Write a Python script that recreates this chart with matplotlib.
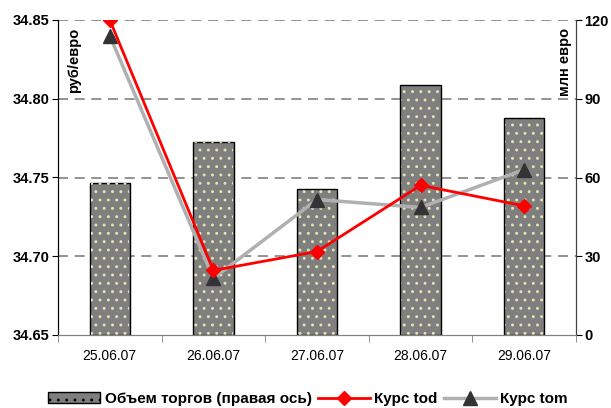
import numpy as np
import matplotlib.pyplot as plt

# Данные
dates = ['25.06.07', '26.06.07', '27.06.07', '28.06.07', '29.06.07']
volume = [58, 73.5, 55.6, 95.2, 82.7]
kurs_tod = [34.850, 34.691, 34.703, 34.745, 34.732]
kurs_tom = [34.840, 34.686, 34.736, 34.731, 34.755]

plt.rcParams['font.family'] = ['Liberation Sans', 'DejaVu Sans']
plt.rcParams['hatch.linewidth'] = 0.9

fig = plt.figure(figsize=(6.11, 4.08), dpi=100)
ax1 = fig.add_axes([58 / 611, 73 / 408, 518 / 611, 315 / 408])
ax2 = ax1.twinx()

x = np.arange(len(dates))

# Объем торгов - столбцы на правой оси
ax2.bar(x, volume, width=0.39, color='#7f7f7f', edgecolor='black', linewidth=1.0, zorder=2)
ax2.bar(x, volume, width=0.37, color='none', edgecolor='#e6e6b0', linewidth=0, hatch='..', zorder=3)
ax2.set_ylim(0, 120)
ax2.set_yticks([0, 30, 60, 90, 120])
ax2.yaxis.grid(True, color='#808080', linestyle=(0, (6, 4)), linewidth=1.2, zorder=0)
ax2.yaxis.get_gridlines()[0].set_visible(False)
ax2.set_axisbelow(True)

# Курсы - линии на левой оси
ax1.set_zorder(ax2.get_zorder() + 1)
ax1.patch.set_visible(False)
ax1.plot(x, kurs_tom, color='#b0b0b0', linewidth=2.5, marker='^', markersize=10,
         markerfacecolor='#333333', markeredgecolor='#333333', label='Курс tom', zorder=3)
ax1.plot(x, kurs_tod, color='#ff0000', linewidth=2, marker='D', markersize=7,
         markerfacecolor='#ff0000', markeredgecolor='#ff0000', label='Курс tod', zorder=4)
ax1.set_ylim(34.65, 34.85)
ax1.set_yticks([34.65, 34.70, 34.75, 34.80, 34.85])
ax1.set_yticklabels(['34.65', '34.70', '34.75', '34.80', '34.85'])
ax1.set_xlim(-0.5, len(dates) - 0.5)
ax1.set_xticks(x)
ax1.set_xticklabels(dates)
ax1.set_xticks(np.arange(-0.5, len(dates)), minor=True)
ax1.tick_params(axis='x', which='major', length=0, pad=10, labelsize=10)
ax1.tick_params(axis='x', which='minor', length=5, color='#808080')

for lbl in ax1.get_yticklabels():
    lbl.set_fontweight('bold')
for lbl in ax2.get_yticklabels():
    lbl.set_fontweight('bold')
ax1.tick_params(axis='y', labelsize=10.5, length=4, pad=2)
ax2.tick_params(axis='y', labelsize=10.5, length=4, pad=2)

for ax in (ax1, ax2):
    ax.spines['top'].set_visible(False)
    ax.spines['bottom'].set_color('#808080')
    ax.spines['left'].set_color('black')
    ax.spines['right'].set_color('#404040')

ax1.text(0.018, 0.975, 'руб/евро', transform=ax1.transAxes, rotation=90,
         ha='left', va='top', fontsize=10.5, fontweight='bold')
ax1.text(0.993, 0.975, 'млн евро', transform=ax1.transAxes, rotation=90,
         ha='right', va='top', fontsize=10.5, fontweight='bold')

# Легенда
h_bar = plt.Rectangle((0, 0), 1, 1, facecolor='#7f7f7f', edgecolor='black', hatch='..')
h_tod, = ax1.plot([], [], color='#ff0000', linewidth=2, marker='D', markersize=7)
h_tom, = ax1.plot([], [], color='#b0b0b0', linewidth=2.5, marker='^', markersize=10,
                  markerfacecolor='#333333', markeredgecolor='#333333')
fig.legend([h_bar, h_tod, h_tom], ['Объем торгов (правая ось)', 'Курс tod', 'Курс tom'],
           loc='center', bbox_to_anchor=(308 / 611, 1 - 399 / 408), ncol=3, frameon=False,
           prop={'weight': 'bold', 'size': 11}, handlelength=3.4, handletextpad=0.3,
           columnspacing=0.4, borderpad=0)

fig.savefig('out.png', dpi=100)
